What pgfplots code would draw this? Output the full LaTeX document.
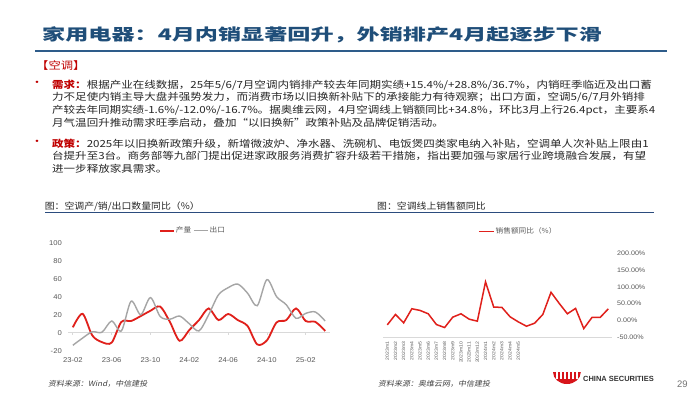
\documentclass[border=0pt]{standalone}
\usepackage{pgfplots}
\pgfplotsset{compat=1.18}
\usepackage{fontspec}
\setmainfont{Liberation Sans}
\newfontfamily\titlefont[FakeStretch=1.45]{Noto Sans CJK SC}
\newfontfamily\bodyfont[FakeStretch=1.18]{Noto Sans CJK SC}
\newfontfamily\cjkchart[FakeStretch=1.1]{Noto Sans CJK SC}
\newfontfamily\srcfont[FakeStretch=1.1,FakeSlant=0.2]{Noto Sans CJK SC}
\newfontfamily\chartfont[FakeStretch=1.1]{Liberation Sans}
\XeTeXlinebreaklocale "zh"
\XeTeXlinebreakskip=0pt plus 1.5pt minus 0.2pt
\definecolor{titleblue}{HTML}{1F4E79}
\definecolor{ruleblue}{HTML}{2E5C8A}
\definecolor{figrule}{HTML}{2B4C7E}
\definecolor{labred}{HTML}{C00000}
\definecolor{bodytext}{HTML}{262626}
\definecolor{chartred}{HTML}{E0201B}
\definecolor{chartgray}{HTML}{A5A5A5}
\definecolor{ticktext}{HTML}{595959}
\definecolor{axisgray}{HTML}{D9D9D9}
\definecolor{srctext}{HTML}{404040}
\definecolor{logored}{HTML}{D7141A}
\newcommand{\bodyfmt}{\bodyfont\fontsize{9.8}{12}\selectfont}
\newcommand{\jline}[2]{\node[anchor=base west, inner sep=0pt, text width=603bp, align=justify, font=\bodyfmt, text=bodytext] at (52bp,-#1bp) {\parindent=0pt\parfillskip=0pt\relax #2};}
\newcommand{\pline}[2]{\node[anchor=base west, inner sep=0pt, font=\bodyfmt, text=bodytext] at (52bp,-#1bp) {#2};}
\begin{document}
\begin{tikzpicture}
\path[use as bounding box, fill=white] (0bp,0bp) rectangle (700bp,-394bp);
% title
\node[anchor=base west, inner sep=0pt, text=titleblue, font=\titlefont\bfseries\fontsize{16}{18}\selectfont] at (42bp,-40.4bp) {家用电器：4月内销显著回升，外销排产4月起逐步下滑};
\draw[ruleblue, line width=2.5bp] (35bp,-51bp) -- (667bp,-51bp);
\node[anchor=base west, inner sep=0pt, text=labred, font=\bodyfont\fontsize{10.5}{12}\selectfont] at (36bp,-69bp) {【空调】};
% bullets
\node[text=labred, font=\bodyfont\fontsize{11}{12}\selectfont, inner sep=0pt] at (37bp,-84.3bp) {•};
\node[text=labred, font=\bodyfont\fontsize{11}{12}\selectfont, inner sep=0pt] at (37bp,-143.3bp) {•};
\jline{88.0}{{\color{labred}\bfseries 需求：}根据产业在线数据，25年5/6/7月空调内销排产较去年同期实绩+15.4\%/+28.8\%/36.7\%，内销旺季临近及出口蓄}
\jline{100.9}{力不足使内销主导大盘并强势发力，而消费市场以旧换新补贴下的承接能力有待观察；出口方面，空调5/6/7月外销排}
\jline{113.8}{产较去年同期实绩-1.6\%/-12.0\%/-16.7\%。据奥维云网，4月空调线上销额同比+34.8\%，环比3月上行26.4pct，主要系4}
\pline{126.7}{月气温回升推动需求旺季启动，叠加“以旧换新”政策补贴及品牌促销活动。}
\jline{147.0}{{\color{labred}\bfseries 政策：}2025年以旧换新政策升级，新增微波炉、净水器、洗碗机、电饭煲四类家电纳入补贴，空调单人次补贴上限由1}
\jline{159.9}{台提升至3台。商务部等九部门提出促进家政服务消费扩容升级若干措施，指出要加强与家居行业跨境融合发展，有望}
\pline{172.8}{进一步释放家具需求。}
% figure titles
\node[anchor=base west, inner sep=0pt, text=bodytext, font=\cjkchart\fontsize{9}{10}\selectfont] at (44.6bp,-209.2bp) {图：空调产/销/出口数量同比（\%）};
\node[anchor=base west, inner sep=0pt, text=bodytext, font=\cjkchart\fontsize{9}{10}\selectfont] at (377bp,-209.2bp) {图：空调线上销售额同比};
\draw[figrule, line width=1.2bp] (45bp,-212.5bp) -- (654bp,-212.5bp);
% left chart
\begin{axis}[
  at={(68bp,-350.7bp)}, anchor=south west,
  scale only axis, width=262bp, height=108bp,
  xmin=-0.5, xmax=26.5, ymin=-20, ymax=100,
  axis line style={draw=none}, major tick length=0pt, tick style={draw=none},
  xtick={0,4,...,24}, xticklabels={23-02,23-06,23-10,24-02,24-06,24-10,25-02},
  ytick={-20,0,...,100}, yticklabels={-20,0,20,40,60,80,100},
  tick label style={font=\chartfont\fontsize{7}{8}\selectfont, text=ticktext, inner sep=0pt},
  yticklabel style={anchor=east, xshift=-6bp},
  xticklabel style={anchor=north, yshift=-6.5bp},
  clip=false,
  legend columns=2,
  legend style={draw=none, fill=none, at={(0.347,1.111)}, anchor=west,
    font=\cjkchart\fontsize{7}{8}\selectfont, text=ticktext, inner sep=0pt,
    nodes={inner sep=1pt},
    /tikz/every even column/.append style={column sep=1bp}},
  legend image code/.code={\draw[#1] (0bp,0bp) -- (14bp,0bp);},
]
\draw[axisgray, line width=0.75bp] (axis cs:-0.5,0) -- (axis cs:26.5,0);
\pgfplotsinvokeforeach{0,4,8,12,16,20,24}{\draw[axisgray, line width=0.75bp] (axis cs:#1,0) -- ++(0bp,-2.5bp);}
\addplot[smooth, color=chartred, line width=1.8bp] coordinates {
(0,6) (1,21) (2,-3) (3,-10.5) (4,-11) (5,12) (6,13) (7,18.5) (8,24.4) (9,29)
(10,12) (11,-9) (12,3) (13,14) (14,27) (15,14) (16,20.8) (17,14) (18,7.5) (19,-13)
(20,-8.5) (21,11.5) (22,14) (23,27) (24,13) (25,12) (26,2)};
\addlegendentry{产量}
\addplot[smooth, color=chartgray, line width=1.4bp] coordinates {
(0,-14) (1,-6) (2,1) (3,0.5) (4,13) (5,2) (6,35) (7,20) (8,39) (9,18)
(10,15) (11,18.5) (12,10) (13,2) (14,20) (15,42) (16,50) (17,54) (18,44) (19,30)
(20,59) (21,40) (22,31) (23,16) (24,21.5) (25,23) (26,13)};
\addlegendentry{出口}
\end{axis}
% right chart
\begin{axis}[
  at={(383.2bp,-337.3bp)}, anchor=south west,
  scale only axis, width=229.2bp, height=84bp,
  xmin=-0.5, xmax=27.5, ymin=-50, ymax=200,
  axis line style={draw=none}, major tick length=0pt, tick style={draw=none},
  xtick={0,...,16},
  xticklabels={2023m1,2023m2,2023m3,2023m4,2023m5,2023m6,2023m7,2023m8,2023m9,2023m10,2023m11,2023m12,2024m1,2024m2,2024m3,2024m4,2024m5},
  ytick={-50,0,...,200},
  yticklabels={-50.00\%,0.00\%,50.00\%,100.00\%,150.00\%,200.00\%},
  yticklabel pos=right,
  tick label style={text=ticktext, inner sep=0pt},
  yticklabel style={anchor=west, xshift=4.6bp, font=\chartfont\fontsize{6.5}{7}\selectfont},
  xticklabel style={yshift=-4.4bp, rotate=90, anchor=east, font=\chartfont\fontsize{4.6}{5}\selectfont},
  clip=false,
  legend style={draw=none, fill=none, at={(0.4136,1.257)}, anchor=west,
    font=\cjkchart\fontsize{7}{8}\selectfont, text=ticktext, inner sep=0pt,
    nodes={inner sep=1pt}},
  legend image code/.code={\draw[#1] (0bp,0bp) -- (15bp,0bp);},
]
\draw[axisgray, line width=0.75bp] (rel axis cs:0,0) -- (rel axis cs:1,0);
\addplot[color=chartred, line width=1.5bp] coordinates {
(0,-13) (1,18) (2,-7) (3,35) (4,30) (5,20) (6,-12) (7,-21) (8,10) (9,20)
(10,4) (11,-2) (12,115) (13,40) (14,39) (15,11) (16,-4) (17,-17) (18,-8) (19,18)
(20,84) (21,51) (22,20) (23,36) (24,-24) (25,9) (26,9) (27,34.8)};
\addlegendentry{销售额同比（\%）}
\end{axis}
% sources
\node[anchor=base west, inner sep=0pt, text=srctext, font=\srcfont\fontsize{7.3}{8}\selectfont] at (48bp,-386.5bp) {资料来源：Wind，中信建投};
\node[anchor=base west, inner sep=0pt, text=srctext, font=\srcfont\fontsize{7.3}{8}\selectfont] at (378bp,-386.5bp) {资料来源：奥维云网，中信建投};
% logo
\fill[logored] (553bp,-372bp) arc[start angle=180, end angle=360, x radius=13.9bp, y radius=12bp] -- cycle;
\foreach \x in {557,561,565,569,573,577}{\draw[white, line width=1.1bp] (\x bp,-371.5bp) -- (\x bp,-379bp);}
\node[anchor=base west, inner sep=0pt, text=black!80, font=\bfseries\fontsize{7.5}{8}\selectfont] at (583bp,-381.4bp) {CHINA SECURITIES};
\node[anchor=base west, inner sep=0pt, text=black!55, font=\fontsize{9.5}{10}\selectfont] at (677bp,-387.6bp) {29};
\end{tikzpicture}
\end{document}
